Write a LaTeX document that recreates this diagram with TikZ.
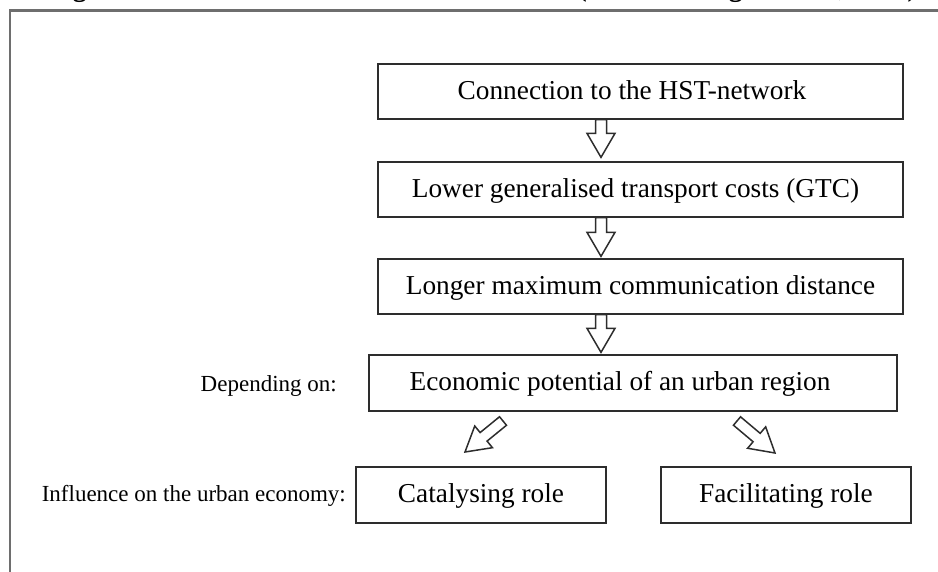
\documentclass[tikz,border=0pt]{standalone}
\usepackage{fontspec}
\setmainfont{Liberation Serif}
\usetikzlibrary{calc}
\definecolor{framegray}{RGB}{110,110,110}
\definecolor{boxline}{RGB}{45,45,45}
\begin{document}
\begin{tikzpicture}[x=1pt,y=1pt,
  box/.style={draw=boxline, line width=1.3pt, rectangle, inner sep=0pt,
    font=\fontsize{27.3}{30}\selectfont, text height=20pt, text depth=5pt},
  lbl/.style={font=\fontsize{23}{26}\selectfont, inner sep=0pt},
  frame/.style={draw=framegray, line width=2.2pt},
  barrow/.style={draw=boxline, fill=white, line width=1.5pt, line join=miter,
    to path={
      ($(\tikztostart)!5.5pt!90:(\tikztotarget)$)
      -- ($(\tikztotarget)!24pt!(\tikztostart)!5.5pt!90:(\tikztotarget)$)
      -- ($(\tikztotarget)!24pt!(\tikztostart)!14pt!90:(\tikztotarget)$)
      -- (\tikztotarget)
      -- ($(\tikztotarget)!24pt!(\tikztostart)!14pt!-90:(\tikztotarget)$)
      -- ($(\tikztotarget)!24pt!(\tikztostart)!5.5pt!-90:(\tikztotarget)$)
      -- ($(\tikztostart)!5.5pt!-90:(\tikztotarget)$)
      -- cycle}}
]
\useasboundingbox (0,0) rectangle (938,-571);

% frame and clipped caption
\draw[frame] (10,-590) -- (10,-10.5) -- (960,-10.5);
\node[anchor=base east, inner sep=0pt, font=\bfseries\fontsize{27.5}{30}\selectfont] (title) at (917,4)
  {Figure 3.1: Influence of HST on urban areas (van den Berg and Pol, 1998)};

% boxes
\node[box, minimum width=525pt, minimum height=55pt] (b1) at (640.5,-91.5) {Connection to the HST-network\hspace*{17pt}};
\node[box, minimum width=525pt, minimum height=55pt] (b2) at (640.5,-189.5) {Lower generalised transport costs (GTC)\hspace*{10pt}};
\node[box, minimum width=525pt, minimum height=55pt] (b3) at (640.5,-286.5) {Longer maximum communication distance};
\node[box, minimum width=528pt, minimum height=56pt] (b4) at (633,-383) {Economic potential of an urban region\hspace*{26pt}};
\node[box, minimum width=250pt, minimum height=56pt] (b5) at (481,-495) {Catalysing role};
\node[box, minimum width=250pt, minimum height=56pt] (b6) at (786,-495) {Facilitating role};

% side labels
\node[lbl, anchor=base east] (dep) at (337,-391) {Depending on:};
\node[lbl, anchor=base east] (infl) at (346,-501) {Influence on the urban economy:};

% arrows
\coordinate (ax) at (601,0);
\coordinate (a1s) at (b1.south -| ax);
\coordinate (a1e) at ($(b2.north -| ax)+(0,4)$);
\coordinate (a2s) at (b2.south -| ax);
\coordinate (a2e) at ($(b3.north -| ax)+(0,2)$);
\coordinate (a3s) at (b3.south -| ax);
\coordinate (a3e) at ($(b4.north -| ax)+(0,2)$);
\coordinate (d1s) at (503,-421);
\coordinate (d1e) at (465,-452);
\coordinate (d2s) at (737,-421);
\coordinate (d2e) at (775,-453);

\draw[barrow] (a1s) to (a1e);
\draw[barrow] (a2s) to (a2e);
\draw[barrow] (a3s) to (a3e);
\draw[barrow] (d1s) to (d1e);
\draw[barrow] (d2s) to (d2e);
\end{tikzpicture}
\end{document}
